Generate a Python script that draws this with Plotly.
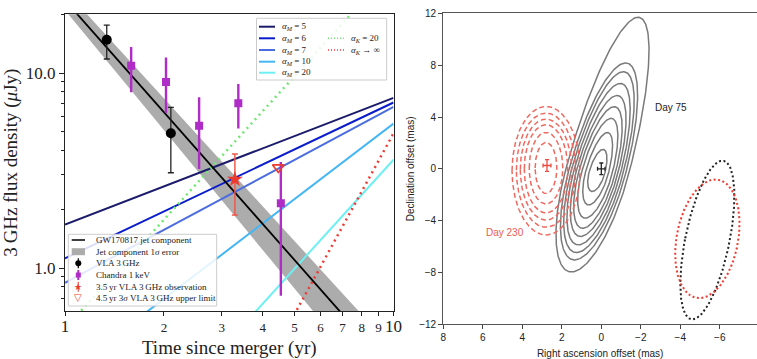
import numpy as np
import plotly.graph_objects as go

W, H = 757, 359

# ---------------- left panel data ----------------
jet_t = [1.0, 8.0]
jet_flux = [23.6, 0.448]
band_t = [1.0, 8.0]
band_upper = [26.6, 0.578]
band_lower = [21.0, 0.30]

aM5_t, aM5_flux = [1.0, 10.0], [1.67, 7.45]
aM6_t, aM6_flux = [1.0, 10.0], [1.12, 7.06]
aM7_t, aM7_flux = [1.0, 10.0], [0.84, 6.7]
aM10_t, aM10_flux = [1.0, 10.0], [0.285, 5.5]
aM20_t, aM20_flux = [3.0, 10.0], [0.385, 3.59]
aK20_t, aK20_flux = [1.0, 10.0], [0.49, 34.8]
aKinf_t, aKinf_flux = [4.5, 10.0], [0.42, 4.9]

vla_t = [1.34, 2.10]
vla_flux = [14.8, 4.91]
vla_upper = [17.6, 6.67]
vla_lower = [11.8, 3.08]

chandra_t = [1.59, 2.03, 2.56, 3.37, 4.54]
chandra_flux = [10.9, 9.0, 5.37, 7.0, 2.15]
chandra_upper = [13.6, 12.0, 7.5, 8.79, 3.5]
chandra_lower = [7.96, 6.24, 3.22, 5.2, 0.72]

obs35_t = [3.29]
obs35_flux = [2.85]
obs35_upper = [3.84]
obs35_lower = [1.87]

ul45_t = [4.46]
ul45_flux = [3.28]

x_tickvals = [1, 2, 3, 4, 5, 6, 7, 8, 9, 10]
y_tickvals = [1, 10]
y_ticktext = ["1.0", "10.0"]

# ---------------- right panel data ----------------
day75_center = [0.22, -0.3]
day75_tilt_deg = 10.0
day75_extent_up = [12.18, 8.6, 7.92, 7.0, 6.05, 5.18, 4.26, 3.15, 1.83]
day75_extent_down = [7.77, 6.83, 6.25, 5.65, 4.99, 4.35, 3.56, 2.52, 1.47]
day75_half_width = [1.6, 1.44, 1.31, 1.18, 1.05, 0.92, 0.77, 0.58, 0.40]

day230_center_x = 2.8
day230_top = [4.81, 4.30, 3.84, 3.40, 2.81, 2.03]
day230_bottom = [-5.1, -4.5, -3.95, -3.4, -2.7, -1.9]
day230_half_width = [1.72, 1.5, 1.3, 1.1, 0.85, 0.55]

beam75 = dict(cx=-5.37, cy=-5.5, a=6.17, b=1.13, tilt=7.3)
beam230 = dict(cx=-5.37, cy=-5.4, a=4.6, b=1.57, tilt=5.8)

pos75 = dict(x=[0.0], y=[0.0], ex=[0.19], ey=[0.45])
pos230 = dict(x=[2.75], y=[0.26], ex=[0.2], ey=[0.45])

ra_ticks = [8, 6, 4, 2, 0, -2, -4, -6]
dec_ticks = [-12, -8, -4, 0, 4, 8, 12]

# ---------------- helpers ----------------
theta = np.linspace(0, 2 * np.pi, 241)


def split_ellipse(cx, cy, up, down, hw, tilt_deg):
    t = np.radians(tilt_deg)
    s, c = np.sin(theta), np.cos(theta)
    u = np.where(s > 0, up * s, down * s)
    v = hw * c
    X = cx - u * np.sin(t) + v * np.cos(t)
    Y = cy + u * np.cos(t) + v * np.sin(t)
    return X, Y


def fx(px):
    return px / W


def fy(py):
    return 1 - py / H


SERIF = "Liberation Serif"
SANS = "Liberation Sans"

fig = go.Figure()

# ---------------- left panel traces ----------------
fig.add_trace(go.Scatter(x=band_t + band_t[::-1], y=band_upper + band_lower[::-1],
                         fill="toself", fillcolor="#acacac", line=dict(width=0),
                         mode="lines", showlegend=False, hoverinfo="skip",
                         xaxis="x", yaxis="y"))

model_lines = [
    (aM5_t, aM5_flux, "#1b1b6b", "solid", 2),
    (aM6_t, aM6_flux, "#0a1ccc", "solid", 2),
    (aM7_t, aM7_flux, "#4a6ce0", "solid", 2),
    (aM10_t, aM10_flux, "#45b6f4", "solid", 2),
    (aM20_t, aM20_flux, "#6cf0f4", "solid", 2),
    (aK20_t, aK20_flux, "#6ee86e", "2px,4px", 2.5),
    (aKinf_t, aKinf_flux, "#ee3a30", "2px,4px", 2.5),
]
for t, f, col, dash, w in model_lines:
    fig.add_trace(go.Scatter(x=t, y=f, mode="lines", line=dict(color=col, width=w, dash=dash),
                             showlegend=False, xaxis="x", yaxis="y"))

fig.add_trace(go.Scatter(x=jet_t, y=jet_flux, mode="lines", line=dict(color="black", width=1.8),
                         showlegend=False, xaxis="x", yaxis="y"))

fig.add_trace(go.Scatter(
    x=vla_t, y=vla_flux, mode="markers",
    marker=dict(color="black", size=10, symbol="circle"),
    error_y=dict(type="data", array=[u - v for u, v in zip(vla_upper, vla_flux)],
                 arrayminus=[v - l for v, l in zip(vla_flux, vla_lower)],
                 color="#222222", thickness=1.3, width=3),
    showlegend=False, xaxis="x", yaxis="y"))

fig.add_trace(go.Scatter(
    x=chandra_t, y=chandra_flux, mode="markers",
    marker=dict(color="#b02cc6", size=8, symbol="square"),
    error_y=dict(type="data", array=[u - v for u, v in zip(chandra_upper, chandra_flux)],
                 arrayminus=[v - l for v, l in zip(chandra_flux, chandra_lower)],
                 color="#b02cc6", thickness=2.4, width=0),
    showlegend=False, xaxis="x", yaxis="y"))

fig.add_trace(go.Scatter(
    x=obs35_t, y=obs35_flux, mode="markers",
    marker=dict(color="#ec3a2c", size=12, symbol="star"),
    error_y=dict(type="data", array=[u - v for u, v in zip(obs35_upper, obs35_flux)],
                 arrayminus=[v - l for v, l in zip(obs35_flux, obs35_lower)],
                 color="#ee5a4c", thickness=1.5, width=3),
    showlegend=False, xaxis="x", yaxis="y"))

fig.add_trace(go.Scatter(
    x=ul45_t, y=ul45_flux, mode="markers",
    marker=dict(color="#ec3a2c", size=10, symbol="triangle-down-open", line=dict(width=1.6)),
    showlegend=False, xaxis="x", yaxis="y"))

# ---------------- right panel traces ----------------
for up, dn, hw in zip(day75_extent_up, day75_extent_down, day75_half_width):
    X, Y = split_ellipse(day75_center[0], day75_center[1], up, dn, hw, day75_tilt_deg)
    fig.add_trace(go.Scatter(x=X, y=Y, mode="lines", line=dict(color="#7a7a7a", width=1.5),
                             showlegend=False, xaxis="x2", yaxis="y2"))

for top, bot, hw in zip(day230_top, day230_bottom, day230_half_width):
    cy = (top + bot) / 2
    hh = (top - bot) / 2
    X, Y = split_ellipse(day230_center_x, cy, hh, hh, hw, 0.0)
    fig.add_trace(go.Scatter(x=X, y=Y, mode="lines",
                             line=dict(color="#ee6a60", width=1.5, dash="5px,3px"),
                             showlegend=False, xaxis="x2", yaxis="y2"))

for beam, col in [(beam75, "#222222"), (beam230, "#ee3a30")]:
    X, Y = split_ellipse(beam["cx"], beam["cy"], beam["a"], beam["a"], beam["b"], beam["tilt"])
    fig.add_trace(go.Scatter(x=X, y=Y, mode="lines", line=dict(color=col, width=2, dash="2px,2.5px"),
                             showlegend=False, xaxis="x2", yaxis="y2"))

for pos, col in [(pos75, "#222222"), (pos230, "#ee4a40")]:
    fig.add_trace(go.Scatter(x=pos["x"], y=pos["y"], mode="markers", marker=dict(size=1, color=col),
                             error_x=dict(type="data", array=pos["ex"], color=col, thickness=1.3, width=2),
                             error_y=dict(type="data", array=pos["ey"], color=col, thickness=1.3, width=2),
                             showlegend=False, xaxis="x2", yaxis="y2"))

# ---------------- manual legends (shapes + text) ----------------
shapes = []
annos = []

# top legend
shapes.append(dict(type="rect", xref="paper", yref="paper", x0=fx(256.5), x1=fx(386.7),
                   y0=fy(80), y1=fy(18.3), line=dict(color="#cccccc", width=1),
                   fillcolor="rgba(255,255,255,0.85)", layer="above"))
aM_rows = [26.7, 38.3, 50, 61.7, 72.7]
aM_labels = ["5", "6", "7", "10", "20"]
for row, lab, (_, _, col, _, _) in zip(aM_rows, aM_labels, model_lines[:5]):
    shapes.append(dict(type="line", xref="paper", yref="paper", x0=fx(259), x1=fx(275),
                       y0=fy(row), y1=fy(row), line=dict(color=col, width=2), layer="above"))
    annos.append(dict(xref="paper", yref="paper", x=fx(280), y=fy(row), xanchor="left", yanchor="middle",
                      text="<i>α<sub>M</sub></i> = " + lab, showarrow=False,
                      font=dict(family=SERIF, size=9, color="#222")))
aK_rows = [38.3, 50]
aK_labels = ["<i>α<sub>K</sub></i> = 20", "<i>α<sub>K</sub></i> → ∞"]
for row, lab, (_, _, col, _, _) in zip(aK_rows, aK_labels, model_lines[5:]):
    shapes.append(dict(type="line", xref="paper", yref="paper", x0=fx(328), x1=fx(345),
                       y0=fy(row), y1=fy(row), line=dict(color=col, width=1.5, dash="1px,2px"),
                       layer="above"))
    annos.append(dict(xref="paper", yref="paper", x=fx(349), y=fy(row), xanchor="left", yanchor="middle",
                      text=lab, showarrow=False, font=dict(family=SERIF, size=9, color="#222")))

# bottom legend
shapes.append(dict(type="rect", xref="paper", yref="paper", x0=fx(68.3), x1=fx(216.7),
                   y0=fy(306), y1=fy(234.3), line=dict(color="#cccccc", width=1),
                   fillcolor="rgba(255,255,255,0.85)", layer="above"))
b_rows = [240, 251.7, 263.3, 275, 286.7, 297.7]
b_labels = ["GW170817 jet component", "Jet component 1<i>σ</i> error", "VLA 3\u2009GHz",
            "Chandra 1\u2009keV", "3.5\u2009yr VLA 3\u2009GHz observation",
            "4.5\u2009yr 3<i>σ</i> VLA 3\u2009GHz upper limit"]
for row, lab in zip(b_rows, b_labels):
    annos.append(dict(xref="paper", yref="paper", x=fx(94), y=fy(row), xanchor="left", yanchor="middle",
                      text=lab, showarrow=False, font=dict(family=SERIF, size=9, color="#222")))
shapes.append(dict(type="line", xref="paper", yref="paper", x0=fx(71.7), x1=fx(85),
                   y0=fy(b_rows[0]), y1=fy(b_rows[0]), line=dict(color="black", width=1.5), layer="above"))
shapes.append(dict(type="rect", xref="paper", yref="paper", x0=fx(71.7), x1=fx(85),
                   y0=fy(b_rows[1] + 3.5), y1=fy(b_rows[1] - 3.5), line=dict(width=0),
                   fillcolor="#acacac", layer="above"))
for row, col, w in [(b_rows[2], "black", 1.2), (b_rows[3], "#b02cc6", 2), (b_rows[4], "#ee5a4c", 1.2)]:
    shapes.append(dict(type="line", xref="paper", yref="paper", x0=fx(78.3), x1=fx(78.3),
                       y0=fy(row + 5), y1=fy(row - 5), line=dict(color=col, width=w), layer="above"))
shapes.append(dict(type="circle", xref="paper", yref="paper", x0=fx(75.3), x1=fx(81.3),
                   y0=fy(b_rows[2] + 3), y1=fy(b_rows[2] - 3), line=dict(width=0),
                   fillcolor="black", layer="above"))
shapes.append(dict(type="rect", xref="paper", yref="paper", x0=fx(75.8), x1=fx(80.8),
                   y0=fy(b_rows[3] + 2.5), y1=fy(b_rows[3] - 2.5), line=dict(width=0),
                   fillcolor="#b02cc6", layer="above"))
annos.append(dict(xref="paper", yref="paper", x=fx(78.3), y=fy(b_rows[4]), xanchor="center", yanchor="middle",
                  text="★", showarrow=False, font=dict(family="DejaVu Sans", size=9, color="#ec3a2c")))
annos.append(dict(xref="paper", yref="paper", x=fx(78.3), y=fy(b_rows[5]), xanchor="center", yanchor="middle",
                  text="▽", showarrow=False, font=dict(family="DejaVu Sans", size=10, color="#ec3a2c")))

# right panel labels
annos.append(dict(xref="x2", yref="y2", x=-2.6, y=4.7, xanchor="left", yanchor="middle", text="Day 75",
                  showarrow=False, font=dict(family=SANS, size=10, color="#222")))
annos.append(dict(xref="x2", yref="y2", x=4.9, y=-4.9, xanchor="center", yanchor="middle", text="Day 230",
                  showarrow=False, font=dict(family=SANS, size=10, color="#ee5a50")))

x_ticktext = [str(v) if v in (1, 10) else "<span style='font-size:13px'>%d</span>" % v for v in x_tickvals]

fig.update_layout(
    width=W, height=H,
    margin=dict(l=0, r=0, t=0, b=0, autoexpand=False),
    paper_bgcolor="white", plot_bgcolor="white",
    showlegend=False,
    shapes=shapes, annotations=annos,
    xaxis=dict(type="log", range=[0, 1], domain=[fx(65), fx(393.5)], anchor="y", automargin=False,
               tickvals=x_tickvals, ticktext=x_ticktext, ticks="outside", ticklen=4, tickwidth=1,
               tickcolor="#222", showline=True, linecolor="#222", linewidth=1.4, mirror=True,
               showgrid=False, zeroline=False, ticklabelstandoff=-5,
               tickfont=dict(family=SERIF, size=17, color="#222"),
               title=dict(text="Time since merger (yr)", standoff=14,
                          font=dict(family=SERIF, size=19, color="#222"))),
    xaxis3=dict(type="log", range=[0, 1], overlaying="x", side="top", anchor="y", automargin=False,
                tickvals=[2, 3, 4, 5, 6, 7, 8, 9], ticks="inside", ticklen=4, tickcolor="#222",
                showticklabels=False, showgrid=False, zeroline=False, showline=False),
    yaxis=dict(type="log", range=[-0.2205, 1.301], domain=[fy(311), fy(14.3)], anchor="x", automargin=False,
               tickvals=y_tickvals, ticktext=y_ticktext, ticks="outside", ticklen=5, tickwidth=1,
               tickcolor="#222",
               minor=dict(tickvals=[0.6, 0.7, 0.8, 0.9, 2, 3, 4, 5, 6, 7, 8, 9, 20], ticks="outside",
                          ticklen=3, tickcolor="#222"),
               showline=True, linecolor="#222", linewidth=1.4, mirror=True,
               showgrid=False, zeroline=False,
               tickfont=dict(family=SERIF, size=17, color="#222"),
               title=dict(text="3\u2009GHz flux density (<i>μ</i>Jy)", standoff=7,
                          font=dict(family=SERIF, size=19, color="#222"))),
    xaxis2=dict(range=[8, 8 - (757 - 443.3) / 19.75], domain=[fx(443.3), 1.0], anchor="y2", automargin=False,
                tickvals=ra_ticks, ticks="outside", ticklen=4, tickcolor="#444",
                showline=True, linecolor="#555", linewidth=1.3, mirror=True,
                showgrid=False, zeroline=False,
                tickfont=dict(family=SANS, size=10, color="#222"),
                title=dict(text="Right ascension offset (mas)", standoff=11,
                           font=dict(family=SANS, size=10, color="#222"))),
    yaxis2=dict(range=[-12, 12], domain=[fy(324.3), fy(13.4)], anchor="x2", automargin=False,
                tickvals=dec_ticks, ticks="outside", ticklen=4, tickcolor="#444",
                showline=True, linecolor="#555", linewidth=1.3, mirror=False,
                showgrid=False, zeroline=False,
                tickfont=dict(family=SANS, size=10, color="#222"),
                title=dict(text="Declination offset (mas)", standoff=2,
                           font=dict(family=SANS, size=10, color="#222"))),
)

fig.write_html("out.html", config={"displayModeBar": False},
               post_script="document.body.style.margin='0px';")
